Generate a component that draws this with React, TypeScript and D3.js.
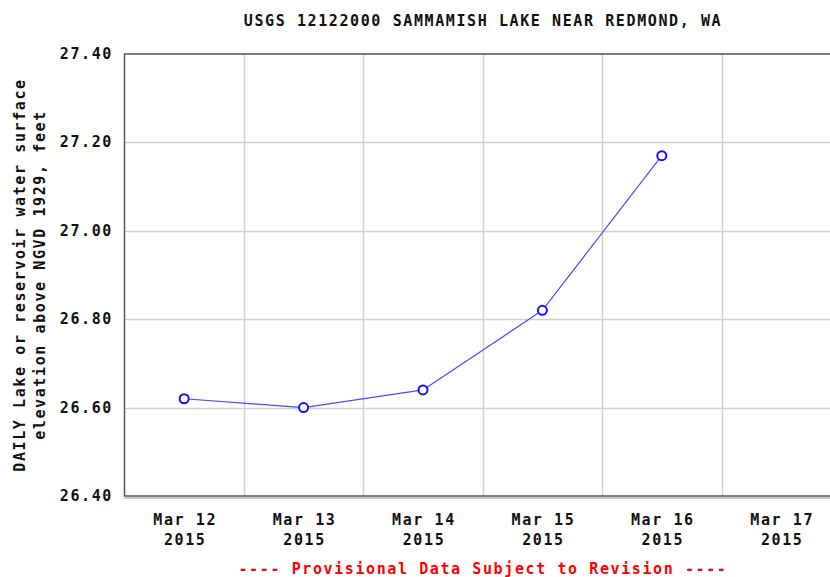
import React, { useRef, useEffect } from 'react'
import * as d3 from 'd3'

// data
const dates = ['2015-03-12T12:00', '2015-03-13T12:00', '2015-03-14T12:00', '2015-03-15T12:00', '2015-03-16T12:00']
const elevations = [26.62, 26.6, 26.64, 26.82, 27.17]
const yTicks = [26.4, 26.6, 26.8, 27.0, 27.2, 27.4]
const xTickDays = ['2015-03-12', '2015-03-13', '2015-03-14', '2015-03-15', '2015-03-16', '2015-03-17']
const yLabelLines = ['DAILY Lake or reservoir water surface', 'elevation above NGVD 1929, feet']

const App = () => {
	const svgRef = useRef<SVGSVGElement>(null)

	useEffect(() => {
		const svg = d3.select(svgRef.current)
		svg.selectAll('*').remove()

		const width = 830
		const height = 577
		const margin = { top: 54, left: 124.5, bottom: 496 }
		const font = '"DejaVu Sans Mono", monospace'
		const ls = 1.6

		svg.attr('width', width).attr('height', height)

		const data = dates.map((d, i) => ({ t: new Date(d), v: elevations[i] }))

		const x = d3
			.scaleTime()
			.domain([new Date('2015-03-12T00:00'), new Date('2015-03-18T00:00')])
			.range([margin.left, margin.left + 6 * 119.4])

		const y = d3.scaleLinear().domain([26.4, 27.4]).range([margin.bottom, margin.top])

		const x0 = x.range()[0]
		const x1 = x.range()[1]

		// grid
		const grid = svg.append('g').attr('stroke', '#d0d0d0').attr('stroke-width', 1.5)
		grid
			.selectAll('.vg')
			.data(xTickDays.slice(1))
			.enter()
			.append('line')
			.attr('x1', d => Math.round(x(new Date(d + 'T00:00'))) + 0.5)
			.attr('x2', d => Math.round(x(new Date(d + 'T00:00'))) + 0.5)
			.attr('y1', margin.top)
			.attr('y2', margin.bottom)
		grid
			.selectAll('.hg')
			.data(yTicks.slice(1, -1))
			.enter()
			.append('line')
			.attr('x1', x0)
			.attr('x2', x1)
			.attr('y1', d => Math.round(y(d)) + 0.5)
			.attr('y2', d => Math.round(y(d)) + 0.5)

		// frame
		svg
			.append('line')
			.attr('x1', x0)
			.attr('x2', x1)
			.attr('y1', margin.bottom + 2)
			.attr('y2', margin.bottom + 2)
			.attr('stroke', '#cccccc')
			.attr('stroke-width', 2)
		svg
			.append('rect')
			.attr('x', x0)
			.attr('y', margin.top)
			.attr('width', x1 - x0)
			.attr('height', margin.bottom - margin.top)
			.attr('fill', 'none')
			.attr('stroke', '#555')
			.attr('stroke-width', 1.5)

		// y tick labels
		svg
			.selectAll('.yt')
			.data(yTicks)
			.enter()
			.append('text')
			.attr('x', 113)
			.attr('y', d => y(d) + 5)
			.attr('text-anchor', 'end')
			.attr('font-family', font)
			.attr('font-weight', 'bold')
			.attr('font-size', 15)
			.attr('letter-spacing', ls)
			.attr('fill', '#111')
			.text(d => d.toFixed(2))

		// x tick labels
		const xt = svg
			.selectAll('.xt')
			.data(xTickDays)
			.enter()
			.append('text')
			.attr('text-anchor', 'middle')
			.attr('font-family', font)
			.attr('font-weight', 'bold')
			.attr('font-size', 15)
			.attr('letter-spacing', ls)
			.attr('fill', '#111')
		xt.append('tspan')
			.attr('x', d => x(new Date(d + 'T12:00')) + 1)
			.attr('y', 525)
			.text(d => d3.timeFormat('%b %d')(new Date(d + 'T12:00')))
		xt.append('tspan')
			.attr('x', d => x(new Date(d + 'T12:00')) + 1)
			.attr('y', 545)
			.text(d => d3.timeFormat('%Y')(new Date(d + 'T12:00')))

		// y label
		svg
			.append('text')
			.attr('transform', `translate(25, ${(margin.top + margin.bottom) / 2}) rotate(-90)`)
			.attr('text-anchor', 'middle')
			.attr('font-family', font)
			.attr('font-weight', 'bold')
			.attr('font-size', 15)
			.attr('letter-spacing', ls)
			.attr('fill', '#111')
			.selectAll('tspan')
			.data(yLabelLines)
			.enter()
			.append('tspan')
			.attr('x', 0)
			.attr('dy', (d, i) => (i === 0 ? 0 : 20))
			.text(d => d)

		// title
		svg
			.append('text')
			.attr('x', 483)
			.attr('y', 26)
			.attr('text-anchor', 'middle')
			.attr('font-family', font)
			.attr('font-weight', 'bold')
			.attr('font-size', 15)
			.attr('letter-spacing', ls)
			.attr('fill', '#111')
			.text('USGS 12122000 SAMMAMISH LAKE NEAR REDMOND, WA')

		// footer
		svg
			.append('text')
			.attr('x', 483)
			.attr('y', 574)
			.attr('text-anchor', 'middle')
			.attr('font-family', font)
			.attr('font-weight', 'bold')
			.attr('font-size', 15)
			.attr('letter-spacing', ls)
			.attr('fill', '#ff0000')
			.text('---- Provisional Data Subject to Revision ----')

		// line
		const line = d3
			.line<{ t: Date; v: number }>()
			.x(d => x(d.t))
			.y(d => y(d.v))
		svg
			.append('path')
			.datum(data)
			.attr('fill', 'none')
			.attr('stroke', '#4a4aff')
			.attr('stroke-width', 1.2)
			.attr('d', line)

		svg
			.selectAll('.dot')
			.data(data)
			.enter()
			.append('circle')
			.attr('cx', d => x(d.t))
			.attr('cy', d => y(d.v))
			.attr('r', 4.5)
			.attr('fill', 'white')
			.attr('stroke', '#1010ff')
			.attr('stroke-width', 2)
	}, [])

	return (
		<div style={{ position: 'absolute', left: 0, top: 0 }}>
			<svg ref={svgRef} style={{ display: 'block' }}></svg>
		</div>
	)
}

export default App
